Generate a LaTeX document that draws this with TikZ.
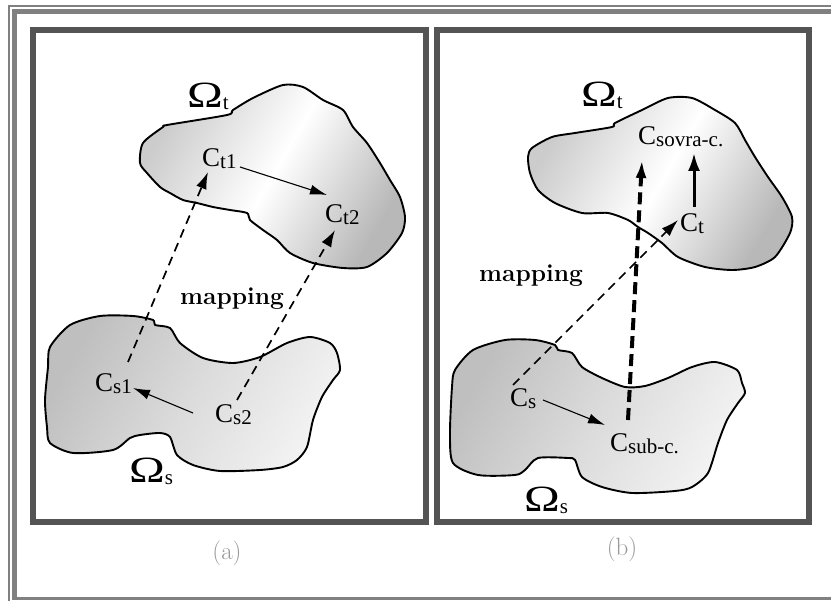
\documentclass[tikz,border=0pt]{standalone}
\usepackage{fontspec}
\newfontfamily\labfont{Liberation Serif}
\usetikzlibrary{arrows.meta}
% subscripts set a little below the baseline
\newcommand\sublab[1]{\raisebox{-1.5pt}{\fontsize{21}{23}\selectfont #1}}
\newcommand\clab[1]{C\sublab{#1}}
\newcommand\omlab[1]{\scalebox{1.3}[1]{Ω}\sublab{#1}}

\begin{document}
\begin{tikzpicture}[x=1pt,y=-1pt,
  lbl/.style={inner sep=0pt, anchor=base west, font=\labfont\fontsize{27}{30}\selectfont},
  omlbl/.style={inner sep=0pt, anchor=base west, font=\labfont\fontsize{37}{40}\selectfont},
  maplbl/.style={inner sep=0pt, anchor=base west, font=\fontsize{24.5}{26}\selectfont\bfseries},
  caplbl/.style={inner sep=0pt, text=black!40, font=\fontsize{25}{27}\selectfont},
  frameline/.style={draw=black!50},
  panel/.style={draw=black!67, line width=6pt},
  blob/.style={draw=black, line width=1.9pt, line join=round},
  tblob/.style={blob, left color=black!20, right color=black!28, middle color=white, shading angle=60},
  sblob/.style={blob, left color=black!25, right color=black!5, middle color=black!14, shading angle=60},
  thin arrow/.style={line width=1.1pt, -{Latex[length=17pt,width=10pt]}},
  map arrow/.style={line width=1.7pt, dash pattern=on 9pt off 6pt, -{Latex[length=17pt,width=11pt]}},
  thick arrow/.style={line width=3pt, -{Latex[length=18pt,width=12pt]}},
  thick map arrow/.style={line width=4pt, dash pattern=on 12pt off 6pt, -{Latex[length=18pt,width=11pt]}},
]
\useasboundingbox (0,0) rectangle (831,601);

% outer double frame, open to the right
\draw[frameline, line width=2pt] (9,601) -- (9,6) -- (831,6);
\draw[frameline, line width=5pt] (14.3,600) -- (14.3,11.5) -- (831,11.5);
\draw[frameline, line width=3pt] (11.8,599) -- (831,599);

% the two panels
\draw[panel] (33,30) rectangle (426,522);
\draw[panel] (437,30) rectangle (809,522);

% ---------- panel (a) ----------
\draw[tblob] plot[smooth cycle, tension=0.45] coordinates {
  (140,163) (143,143) (163,127) (167,125) (227,115) (233,110) (253,98) (283,85)
  (303,87) (323,100) (343,110) (353,127) (367,143) (380,163) (390,180) (400,197)
  (405,217) (402,233) (387,253) (367,267) (343,268) (313,263) (290,253) (277,240)
  (263,230) (250,220) (247,213) (230,210) (213,207) (197,203) (183,200) (170,193)
  (160,187) (147,173)};
\draw[sblob] plot[smooth cycle, tension=0.45] coordinates {
  (50,347) (70,325) (100,316) (133,316) (153,320) (155,325) (170,328) (180,343)
  (203,358) (233,363) (260,357) (287,343) (310,337) (330,343) (337,353) (340,370)
  (333,380) (322,397) (313,420) (307,447) (297,460) (283,467) (260,470) (220,471)
  (193,465) (177,455) (170,437) (160,433) (140,435) (130,438) (113,450) (73,453)
  (50,443) (47,427) (45,400) (48,367)};

\node[omlbl] (omta) at (187,108) {\omlab{t}};
\node[omlbl] (omsa) at (129,483) {\omlab{s}};
\node[lbl] (ct1) at (202,167) {\clab{t1}};
\node[lbl] (ct2) at (325,223) {\clab{t2}};
\node[lbl] (cs1) at (95,392) {\clab{s1}};
\node[lbl] (cs2) at (215,423) {\clab{s2}};
\node[maplbl] (mapa) at (180,305) {mapping};
\node[caplbl] (capa) at (227,553) {(a)};

\draw[thin arrow] ([shift={(38pt,0pt)}]ct1.base west) -- ([shift={(2pt,28pt)}]ct2.base west);
\draw[thin arrow] ([shift={(-22pt,10pt)}]cs2.base west) -- ([shift={(38pt,4pt)}]cs1.base west);
\draw[map arrow] ([shift={(33pt,30pt)}]cs1.base west) -- ([shift={(6pt,-5pt)}]ct1.base west);
\draw[map arrow] ([shift={(22pt,23pt)}]cs2.base west) -- ([shift={(10pt,-7pt)}]ct2.base west);

% ---------- panel (b) ----------
\draw[tblob] plot[smooth cycle, tension=0.45] coordinates {
  (528,157) (532,148) (552,137) (575,133) (612,127) (615,123) (642,110) (668,98)
  (692,98) (715,110) (735,123) (745,140) (755,157) (768,177) (782,197) (792,217)
  (790,233) (775,257) (755,267) (732,270) (705,267) (678,257) (662,243) (648,233)
  (638,227) (628,220) (608,213) (582,213) (555,203) (538,190) (530,173)};
\draw[sblob] plot[smooth cycle, tension=0.45] coordinates {
  (455,370) (473,350) (505,340) (535,340) (555,345) (558,350) (572,353) (582,367)
  (602,378) (625,387) (645,386) (668,378) (692,367) (715,362) (737,370) (742,383)
  (745,393) (738,403) (727,420) (718,443) (708,473) (692,487) (675,491) (632,493)
  (602,487) (582,477) (575,460) (568,458) (538,458) (525,470) (515,475) (478,475)
  (453,463) (450,433) (452,387)};

\node[omlbl] (omtb) at (581,107) {\omlab{t}};
\node[omlbl] (omsb) at (524,512) {\omlab{s}};
\node[lbl] (csov) at (638,145) {\clab{sovra-c.}};
\node[lbl] (ct) at (680,232) {\clab{t}};
\node[lbl] (cs) at (510,407) {\clab{s}};
\node[lbl] (csub) at (610,452) {\clab{sub-c.}};
\node[maplbl] (mapb) at (479,282) {mapping};
\node[caplbl] (capb) at (622,549) {(b)};

\draw[map arrow] ([shift={(3pt,22pt)}]cs.base west) -- ([shift={(-2pt,12pt)}]ct.base west);
\draw[thin arrow] ([shift={(33pt,7pt)}]cs.base west) -- ([shift={(-5pt,27pt)}]csub.base west);
\draw[thick map arrow] ([shift={(18pt,32pt)}]csub.base west) -- ([shift={(4pt,-15pt)}]csov.base west);
\draw[thick arrow] ([shift={(14pt,25pt)}]ct.base west) -- ([shift={(56pt,-8pt)}]csov.base west);
\end{tikzpicture}
\end{document}
